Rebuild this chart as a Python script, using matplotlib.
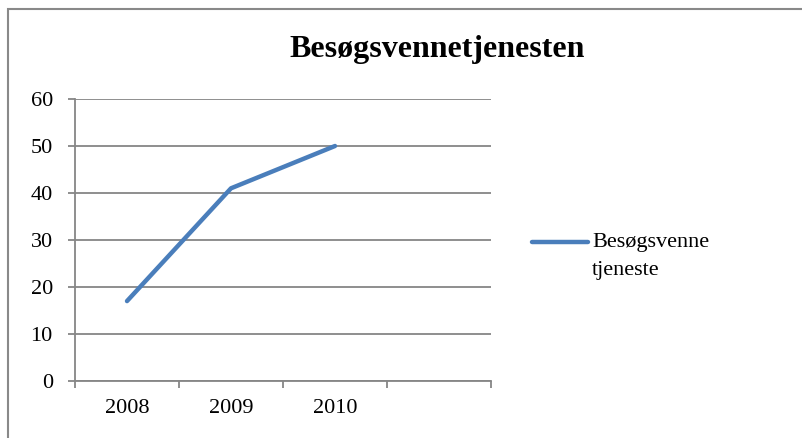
import matplotlib.pyplot as plt
from matplotlib.lines import Line2D
from matplotlib.patches import Rectangle
import numpy as np

plt.rcParams['font.family'] = ['Liberation Serif', 'DejaVu Serif']

TITLE = 'Besøgsvennetjenesten'
SERIES = 'Besøgsvenne\ntjeneste'
years = ['2008', '2009', '2010', '']
values = [17, 41, 50]
y_ticks = [0, 10, 20, 30, 40, 50, 60]

LINE_COLOR = '#4a7ebb'
GRID_COLOR = '#868686'

fig = plt.figure(figsize=(8.02, 4.38), dpi=100)
ax = fig.add_axes([75 / 802, 1 - 381 / 438, 416 / 802, 282 / 438])

x = np.arange(len(values)) + 0.5
ax.plot(x, values, color=LINE_COLOR, lw=3.2, solid_capstyle='round',
        solid_joinstyle='round', zorder=5)

ax.set_xlim(0, len(years))
ax.set_ylim(0, 60)
ax.set_yticks(y_ticks)
ax.set_xticks(np.arange(len(years) + 1))
ax.set_xticklabels([])
ax.set_xticks(np.arange(len(years)) + 0.5, minor=True)
ax.set_xticklabels(years, minor=True)
ax.tick_params(axis='x', which='minor', length=0, pad=13, labelsize=16)
ax.tick_params(axis='x', which='major', length=5, width=1.3, color=GRID_COLOR)
ax.tick_params(axis='y', length=5, width=1.3, color=GRID_COLOR, pad=11, labelsize=16)
ax.yaxis.grid(True, color=GRID_COLOR, lw=1.3)
ax.set_axisbelow(True)
for s in ['top', 'right']:
    ax.spines[s].set_visible(False)
for s in ['left', 'bottom']:
    ax.spines[s].set_color(GRID_COLOR)
    ax.spines[s].set_linewidth(1.3)

fig.text(437 / 802, 1 - 50 / 438, TITLE, ha='center', va='center',
         fontsize=23, fontweight='bold')

# legend drawn by hand so the sample sits on the first text line
fig.add_artist(Line2D([532 / 802, 588 / 802], [1 - 242 / 438] * 2,
                      color=LINE_COLOR, lw=3.2, solid_capstyle='round'))
fig.text(592 / 802, 1 - 233 / 438, SERIES, ha='left', va='top',
         fontsize=16, linespacing=1.65)

# chart frame
fig.add_artist(Rectangle((7.5 / 802, -0.05), 1.0, 1 - 9 / 438 + 0.05,
                         transform=fig.transFigure, fill=False,
                         edgecolor='#898989', lw=1.5))

fig.savefig('out.png', dpi=100)
